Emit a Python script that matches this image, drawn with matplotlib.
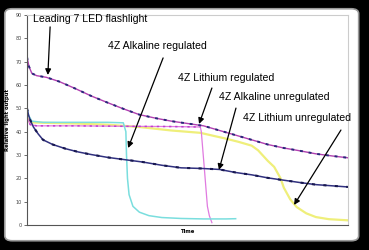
import numpy as np
import matplotlib.pyplot as plt
from matplotlib.patches import FancyBboxPatch

# Leading 7 LED flashlight
led_t = [0, 0.6, 1.5, 3, 6, 10, 15, 20, 25, 30, 35, 40, 45, 50, 55, 60, 65, 70, 75, 80, 85, 90, 95, 100]
led_v = [72, 68, 65, 64, 63.3, 61.5, 58.5, 55.3, 52.5, 49.8, 47.3, 45.8, 44.5, 43.5, 42.5, 40.5, 38.5, 36.5, 34.5, 33, 31.8, 30.5, 29.6, 28.8]

# 4Z Alkaline unregulated
alk_u_t = [0, 0.5, 1, 2, 3.5, 5, 8, 12, 16, 20, 25, 31, 36, 42, 48, 55, 60, 65, 70, 75, 80, 85, 90, 95, 100]
alk_u_v = [50, 47, 45, 42, 39, 36.5, 34.5, 32.7, 31.3, 30.2, 29, 27.9, 27, 25.6, 24.5, 24.2, 23.8, 22.5, 21.5, 20.2, 19.2, 18.2, 17.3, 16.8, 16.3]

# 4Z Alkaline regulated
alk_r_t = [0, 0.5, 1.5, 5, 15, 25, 30, 30.8, 31.0, 31.3, 31.8, 33, 35, 38, 42, 48, 55, 62, 65]
alk_r_v = [50, 47, 44.5, 44, 44, 44, 43.8, 40, 30, 20, 13, 8, 5.5, 4, 3.2, 2.8, 2.6, 2.6, 2.7]

# 4Z Lithium regulated
li_r_t = [0, 1, 3, 15, 30, 45, 54, 54.3, 55.2, 56.2, 56.8, 57.6]
li_r_v = [46, 43, 42.5, 42.5, 42.3, 42.2, 42, 40, 25, 8, 4, 1]

# 4Z Lithium unregulated
li_u_t = [0, 1, 5, 15, 25, 35, 45, 54, 62, 66, 70, 72, 75, 77, 79, 80, 82, 84, 87, 90, 94, 100]
li_u_v = [46, 44, 43.8, 43.5, 43, 42, 40.5, 39.5, 37, 35.6, 34, 32, 27.5, 24.9, 20, 16, 11, 7.7, 5, 3.4, 2.5, 2.0]

y_ticks = [0, 10, 20, 30, 40, 50, 60, 70, 80, 90]

fig = plt.figure(figsize=(3.69, 2.5), dpi=100, facecolor="black")

# white rounded panel
panel = FancyBboxPatch((0.018, 0.042), 0.949, 0.918, boxstyle="round,pad=0.005,rounding_size=0.02",
                       transform=fig.transFigure, facecolor="white", edgecolor="#9a9a9a", linewidth=1.2,
                       zorder=0)
fig.patches.append(panel)

ax = fig.add_axes([27 / 369, 1 - 225 / 250, 321 / 369, 210 / 250])
ax.set_zorder(2)
ax.set_facecolor("white")

# series
ax.plot(li_u_t, li_u_v, color="#efef7a", lw=1.6)
ax.plot(li_r_t, li_r_v, color="#e07ae0", lw=0.9)
ax.plot(li_r_t[:7], li_r_v[:7], color="#c040d0", lw=1.1, dashes=(1.5, 2.5))
ax.plot(alk_r_t, alk_r_v, color="#7adede", lw=1.1)
ax.plot(alk_u_t, alk_u_v, color="#30307f", lw=1.1)
ax.plot(alk_u_t, alk_u_v, color="#181850", lw=1.5, dashes=(1.5, 4))
ax.plot(led_t, led_v, color="#b040b0", lw=1.0)
ax.plot(led_t, led_v, color="#28287a", lw=1.4, dashes=(1.5, 3))

ax.set_xlim(0, 100)
ax.set_ylim(0, 90)
ax.set_xticks([])
ax.set_yticks(y_ticks)
ax.tick_params(axis="y", labelsize=3.5, labelcolor="#444444", length=2, width=0.6, color="#555555", pad=1.5)

for s in ["left", "bottom"]:
    ax.spines[s].set_color("#555555")
    ax.spines[s].set_linewidth(0.8)
for s in ["top", "right"]:
    ax.spines[s].set_color("#cccccc")
    ax.spines[s].set_linewidth(0.8)

ax.set_ylabel("Relative light output", fontsize=3.8, fontweight="bold", labelpad=4)
ax.set_xlabel("Time", fontsize=3.8, fontweight="bold", labelpad=3)

# annotations with arrows
labels = [
    ("Leading 7 LED flashlight", (1.9, 88.3), (7.2, 84.9), (6.5, 64.3)),
    ("4Z Alkaline regulated", (25.2, 76.7), (42.4, 71.6), (31.5, 33.0)),
    ("4Z Lithium regulated", (47.0, 63.0), (57.6, 58.7), (53.6, 43.3)),
    ("4Z Alkaline unregulated", (59.8, 54.9), (65.1, 50.1), (59.8, 23.6)),
    ("4Z Lithium unregulated", (67.3, 45.9), (97.8, 40.7), (83.2, 8.6)),
]
for text, txt_pos, start, head in labels:
    ax.text(txt_pos[0], txt_pos[1], text, fontsize=7.6, family="Liberation Sans",
            ha="left", va="center", color="black")
    ax.annotate("", xy=head, xytext=start,
                arrowprops=dict(arrowstyle="-|>", color="black", lw=0.9,
                                mutation_scale=8.5, shrinkA=0, shrinkB=0))

fig.savefig("out.png", dpi=100, facecolor="black")
